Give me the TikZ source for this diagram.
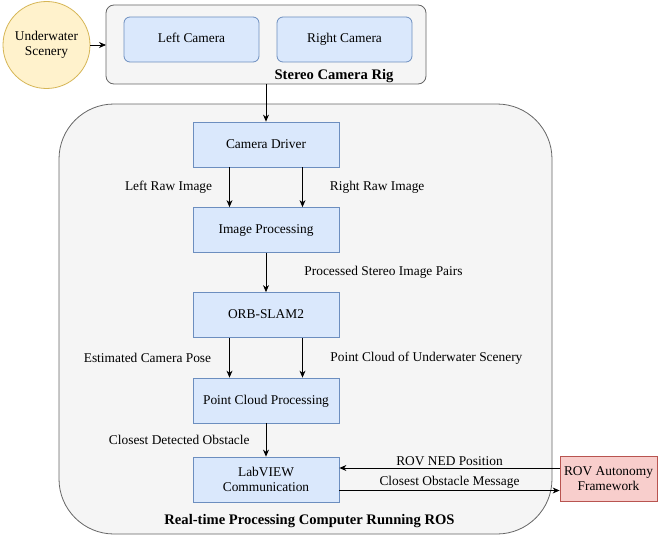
\documentclass[tikz,border=0pt]{standalone}
\usepackage{fontspec}
\setmainfont{Liberation Serif}
\usetikzlibrary{arrows.meta}
\definecolor{blockfill}{HTML}{DAE8FC}
\definecolor{blockline}{HTML}{6C8EBF}
\definecolor{groupfill}{HTML}{F5F5F5}
\definecolor{groupline}{HTML}{666666}
\definecolor{scenefill}{HTML}{FFF2CC}
\definecolor{sceneline}{HTML}{D6B656}
\definecolor{rovfill}{HTML}{F8CECC}
\definecolor{rovline}{HTML}{B85450}
\tikzset{
  block/.style={draw=blockline,fill=blockfill,line width=0.8pt,minimum width=146pt,
    minimum height=45pt,inner sep=2pt,align=center,text height=0.75em,text depth=0.05em,
    font=\fontsize{13.4}{15.5}\selectfont},
  group/.style={draw=groupline,fill=groupfill,line width=0.8pt},
  lbl/.style={font=\fontsize{13.4}{15}\selectfont,inner sep=2pt},
  title/.style={font=\fontsize{14.6}{16}\selectfont\bfseries,inner sep=0pt,anchor=base},
  arr/.style={-{Stealth[length=7pt,width=6pt]},line width=0.8pt}
}
\begin{document}
\begin{tikzpicture}[x=1pt,y=-1pt]
\useasboundingbox[fill=white] (0,0) rectangle (659,535);
% containers
\draw[group,rounded corners=8pt] (106,5) rectangle (426,84);
\node[title] (rigtitle) at (334,79.5) {Stereo Camera Rig};
\coordinate (rigbot) at (266,84);
\draw[group,rounded corners=55pt] (59,104) rectangle (552,534);
\node[title] (rostitle) at (309.5,524) {Real-time Processing Computer Running ROS};

\node[draw=sceneline,fill=scenefill,line width=0.8pt,circle,minimum size=87pt,inner sep=0pt,
  align=center,font=\fontsize{13.4}{15.5}\selectfont] (scene) at (46.5,45) {Underwater\\Scenery};
\coordinate (rigleft) at (106,45);
\node[block,rounded corners=6pt,minimum width=135pt] (leftcam) at (191.5,39.5) {Left Camera};
\node[block,rounded corners=6pt,minimum width=135pt] (rightcam) at (344.5,39.5) {Right Camera};

% pipeline
\node[block] (driver) at (266,144.5) {Camera Driver};
\node[block] (imgproc) at (266,230) {Image Processing};
\node[block] (orb) at (266,315) {ORB-SLAM2};
\node[block] (pcp) at (266,400.5) {Point Cloud Processing};
\node[block,text height=,text depth=] (labview) at (266,479.5) {LabVIEW\\Communication};
\node[block,text height=,text depth=,draw=rovline,fill=rovfill,minimum width=97pt] (rov)
  at (608.5,478.5) {ROV Autonomy\\Framework};

\draw[arr] (scene.east) -- (rigleft);
\draw[arr] (rigbot) -- (driver.north);
\draw[arr] ([xshift=-36.5pt]driver.south) -- ([xshift=-36.5pt]imgproc.north)
  node[lbl,midway,anchor=east,xshift=-15pt] {Left Raw Image};
\draw[arr] ([xshift=36.5pt]driver.south) -- ([xshift=36.5pt]imgproc.north)
  node[lbl,midway,anchor=west,xshift=25pt] {Right Raw Image};
\draw[arr] (imgproc) -- (orb)
  node[lbl,midway,anchor=west,xshift=36pt] {Processed Stereo Image Pairs};
\draw[arr] ([xshift=-36.5pt]orb.south) -- ([xshift=-36.5pt]pcp.north)
  node[lbl,midway,anchor=east,xshift=-16pt] {Estimated Camera Pose};
\draw[arr] ([xshift=36.5pt]orb.south) -- ([xshift=36.5pt]pcp.north)
  node[lbl,midway,anchor=west,xshift=25.5pt] {Point Cloud of Underwater Scenery};
\draw[arr] (pcp) -- (labview)
  node[lbl,midway,anchor=east,xshift=-14pt] {Closest Detected Obstacle};
\draw[arr] ([yshift=10.5pt]rov.west) -- ([yshift=10.5pt]rov.west -| labview.east)
  node[lbl,midway,above] {ROV NED Position};
\draw[arr] ([yshift=-11pt]labview.east) -- ([yshift=-11pt]labview.east -| rov.west)
  node[lbl,midway,above] {Closest Obstacle Message};
\end{tikzpicture}
\end{document}
